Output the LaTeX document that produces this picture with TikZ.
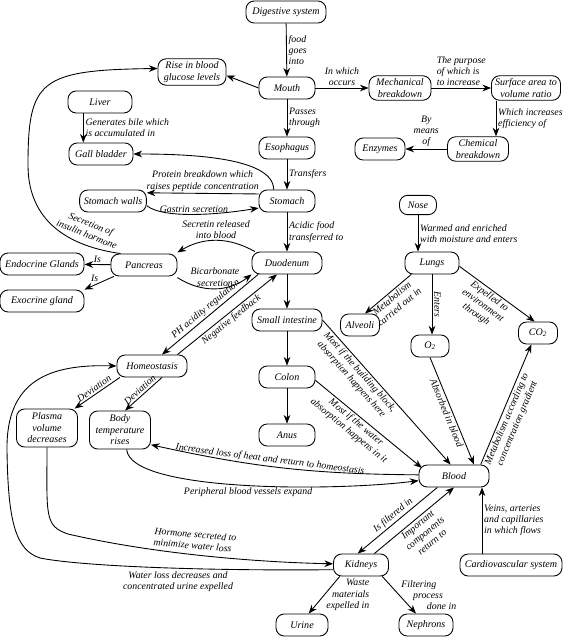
\documentclass[tikz,border=0pt]{standalone}
\usepackage{fontspec}
\setmainfont{Liberation Serif}
\usepackage{tikz}
\usetikzlibrary{arrows.meta,calc}

\tikzset{
  concept/.style={draw, line width=0.75pt, rounded corners=7pt, align=center,
    minimum width=#1, minimum height=0.66cm, inner sep=2.5pt,
    font=\fontsize{8.6}{9.8}\selectfont\itshape},
  concept/.default=1.68cm,
  link/.style={line width=0.75pt, -{Stealth[length=2.6mm,width=2mm]}},
  lbl/.style={font=\fontsize{8.4}{9.6}\selectfont\itshape, inner sep=1.5pt, align=left},
}

\begin{document}
\begin{tikzpicture}
  \useasboundingbox (0,0) rectangle (17.01,-19.11);

  % concepts
  \node[concept=2.4cm] (digest) at (8.58,-0.36) {Digestive system};
  \node[concept=2.04cm] (glucose) at (5.76,-2.16) {Rise in blood\\glucose levels};
  \node[concept] (mouth) at (8.61,-2.64) {Mouth};
  \node[concept=1.86cm] (mech) at (12.0,-2.64) {Mechanical\\breakdown};
  \node[concept=2.07cm] (surface) at (15.78,-2.64) {Surface area to\\volume ratio};
  \node[concept=1.92cm] (liver) at (3.0,-3.06) {Liver};
  \node[concept=1.92cm] (gall) at (3.03,-4.62) {Gall bladder};
  \node[concept] (esoph) at (8.61,-4.44) {Esophagus};
  \node[concept=1.5cm] (enzymes) at (11.4,-4.47) {Enzymes};
  \node[concept=1.83cm] (chem) at (14.34,-4.47) {Chemical\\breakdown};
  \node[concept=2.0cm] (walls) at (3.39,-6.03) {Stomach walls};
  \node[concept] (stomach) at (8.61,-6.03) {Stomach};
  \node[concept=1.11cm, minimum height=0.58cm] (nose) at (12.54,-6.15) {Nose};
  \node[concept=2.52cm] (endo) at (1.26,-7.92) {Endocrine Glands};
  \node[concept=1.98cm] (pancreas) at (4.32,-7.95) {Pancreas};
  \node[concept=2.1cm] (duod) at (8.61,-7.89) {Duodenum};
  \node[concept=1.62cm] (lungs) at (12.96,-7.89) {Lungs};
  \node[concept=2.52cm] (exo) at (1.26,-9.03) {Exocrine gland};
  \node[concept=2.1cm] (smallint) at (8.61,-9.6) {Small intestine};
  \node[concept=1.17cm] (alveoli) at (10.8,-9.75) {Alveoli};
  \node[concept=1.14cm] (oxy) at (12.9,-10.38) {O\textsubscript{2}};
  \node[concept=1.17cm] (carbon) at (16.14,-9.99) {CO\textsubscript{2}};
  \node[concept=2.1cm] (homeo) at (4.56,-10.98) {Homeostasis};
  \node[concept] (colon) at (8.61,-11.31) {Colon};
  \node[concept=1.83cm, minimum height=1.14cm] (plasma) at (1.41,-12.84) {Plasma\\volume\\decreases};
  \node[concept=1.83cm, minimum height=1.14cm] (bodytemp) at (3.6,-12.9) {Body\\temperature\\rises};
  \node[concept] (anus) at (8.61,-13.05) {Anus};
  \node[concept=2.1cm] (blood) at (13.62,-14.28) {Blood};
  \node[concept=1.65cm] (kidneys) at (10.83,-16.95) {Kidneys};
  \node[concept=3.06cm] (cardio) at (15.33,-16.95) {Cardiovascular system};
  \node[concept=1.56cm] (urine) at (9.06,-18.75) {Urine};
  \node[concept=1.62cm] (nephrons) at (12.78,-18.75) {Nephrons};

  % digestion
  \draw[link] (digest) -- node[lbl, right] {food\\goes\\into} (mouth);
  \draw[link] (mouth.west) -- ([yshift=-3pt]glucose.east);
  \draw[link] (mouth) -- node[lbl, above, align=center] {In which\\occurs} (mech);
  \draw[link] (mech) -- node[lbl, above] {The purpose\\of which is\\to increase} (surface);
  \draw[link] ([xshift=-9mm]surface.south) -- ([xshift=-9mm]surface.south |- chem.north)
    node[lbl, midway, right] {Which increases\\efficiency of};
  \draw[link] (chem) -- node[lbl, above, align=center] {By\\means\\of} (enzymes);
  \draw[link] (mouth) -- node[lbl, right] {Passes\\through} (esoph);
  \draw[link] (esoph) -- node[lbl, right] {Transfers} (stomach);
  \draw[link] ([xshift=-5mm]liver.south) -- ([xshift=-5mm]liver.south |- gall.north)
    node[lbl, midway, right] {Generates bile which\\is accumulated in};
  \draw[link] ([xshift=-4mm]stomach.north) .. controls +(0,1.0) and +(1.5,0) .. (gall.east);
  \draw[link] ([yshift=6pt]stomach.west) -- ([yshift=7pt]walls.east)
    node[lbl, midway, above, align=center] {Protein breakdown which\\raises peptide concentration};
  \draw[link] ([yshift=-4pt]walls.east) .. controls +(0.5,-0.4) and +(-1.2,-0.2) .. ([yshift=-6pt]stomach.west)
    node[lbl, pos=0.5, above] {Gastrin secretion};
  \draw[link] (stomach) -- node[lbl, right] {Acidic food\\transferred to} (duod);
  \draw[link] ([xshift=1mm]duod.north west) to[bend right=30]
    node[lbl, above, align=center] {Secretin released\\into blood} ([yshift=1pt]pancreas.north east);
  \draw[link] ([yshift=-1pt]pancreas.south east) to[bend right=35]
    node[lbl, above, align=center] {Bicarbonate\\secretion} (duod.south west);
  \draw[link] (pancreas) -- node[lbl, above] {Is} (endo);
  \draw[link] ([xshift=1mm]pancreas.south west) -- (exo.north east)
    node[lbl, midway, above left=-1pt] {Is};
  \draw[link] ([xshift=3mm]pancreas.north west) .. controls (1.8,-7.35) and (0.84,-6.45) .. (0.84,-4.95)
    .. controls (0.84,-2.4) and (1.2,-2.1) .. ([yshift=3pt]glucose.west);
  \node[lbl, rotate=-22, align=center] (insulin) at (2.67,-6.87) {Secretion of\\insulin hormone};
  \draw[link] ([xshift=2mm]duod.south west) -- ([xshift=3mm]homeo.north)
    node[lbl, midway, above, sloped] {PH acidity regulation};
  \draw[link] ([xshift=-3mm]homeo.north east) -- ([xshift=-3mm]duod.south)
    node[lbl, midway, below, sloped] {Negative feedback};
  \draw[link] (duod) -- (smallint);
  \draw[link] (smallint) -- (colon);
  \draw[link] (colon) -- (anus);
  \draw[link] (smallint.east) -- ([xshift=-1mm]blood.north)
    node[lbl, pos=0.33, below, sloped, align=center] {Most if the building block,\\absorption happens here};
  \draw[link] ([yshift=-1mm]colon.east) -- ([xshift=1mm,yshift=-1mm]blood.north west)
    node[lbl, pos=0.42, below, sloped, align=center] {Most if the water\\absorption happens in it};

  % respiration
  \draw[link] (nose) -- (nose |- lungs.north)
    node[lbl, midway, right] {Warmed and enriched\\with moisture and enters};
  \draw[link] ([xshift=2mm]lungs.south west) -- ([xshift=1.5mm]alveoli.north)
    node[lbl, midway, below, sloped, align=center] {Metabolism\\carried out in};
  \draw[link] (lungs.south) -- (lungs.south |- oxy.north)
    node[lbl, midway, rotate=-90, anchor=south] {Enters};
  \draw[link] ([yshift=-1mm]lungs.east) -- ([xshift=-1mm]carbon.north)
    node[lbl, pos=0.45, below, sloped, align=center] {Expelled to\\environment\\through};
  \draw[link] (oxy.south) -- ([xshift=6mm]blood.north)
    node[lbl, midway, below, sloped] {Absorbed in blood};
  \draw[link] ([xshift=8mm]blood.north) -- ([xshift=-2mm]carbon.south)
    node[lbl, pos=0.4, below, sloped, align=center] {Metabolism according to\\concentration gradient};

  % homeostasis
  \draw[link] ([xshift=1mm]homeo.south west) -- ([xshift=-1mm]plasma.north east)
    node[lbl, midway, above, sloped] {Deviation};
  \draw[link] ([xshift=3mm]homeo.south) -- ([xshift=1.5mm]bodytemp.north)
    node[lbl, midway, above, sloped] {Deviation};
  \draw[link] ([yshift=1pt]blood.west) to[bend left=6]
    node[lbl, pos=0.56, above, sloped] {Increased loss of heat and return to homeostasis} ([yshift=4pt]bodytemp.south east);
  \draw[link] ([xshift=2mm]bodytemp.south) .. controls (3.9,-14.75) and (9.9,-14.75) .. ([yshift=-4pt]blood.west)
    node[lbl, pos=0.52, below] {Peripheral blood vessels expand};
  \draw[link] (plasma.south) .. controls (1.41,-15.45) and (1.32,-15.78) .. (2.04,-16.02)
    .. controls (4.5,-16.59) and (7.5,-16.86) .. ([yshift=1pt]kidneys.west);
  \node[lbl, rotate=-5] (hormone) at (5.85,-16.2) {Hormone secreted to\\minimize water loss};
  \draw[link] ([yshift=-4pt]kidneys.west) .. controls (6.0,-17.13) and (2.4,-16.98) .. (1.2,-16.74)
    .. controls (0.45,-16.5) and (0.24,-15.6) .. (0.21,-13.5)
    .. controls (0.18,-11.4) and (1.5,-10.92) .. (homeo.west);
  \node[lbl, align=center] (waterloss) at (5.34,-17.46) {Water loss decreases and\\concentrated urine expelled};

  % excretion
  \draw[link] ([xshift=-5mm]blood.south) -- ([xshift=-1mm]kidneys.north)
    node[lbl, midway, above, sloped] {Is filtered in};
  \draw[link] ([xshift=4mm]kidneys.north) -- (blood.south)
    node[lbl, midway, below, sloped, align=center] {Important\\components\\return to};
  \draw[link] ([xshift=-8.7mm]cardio.north) -- ([xshift=-8.7mm]cardio.north |- blood.south)
    node[lbl, midway, right] {Veins, arteries\\and capillaries\\in which flows};
  \draw[link] ([xshift=2mm]kidneys.south west) -- ([xshift=2mm]urine.north)
    node[lbl, midway, right, align=right] {Waste\\materials\\expelled in};
  \draw[link] ([xshift=-2mm]kidneys.south east) -- ([xshift=-3mm]nephrons.north)
    node[lbl, midway, right] {Filtering\\\hspace*{1.2em}process\\\hspace*{2.6em}done in};
\end{tikzpicture}
\end{document}
